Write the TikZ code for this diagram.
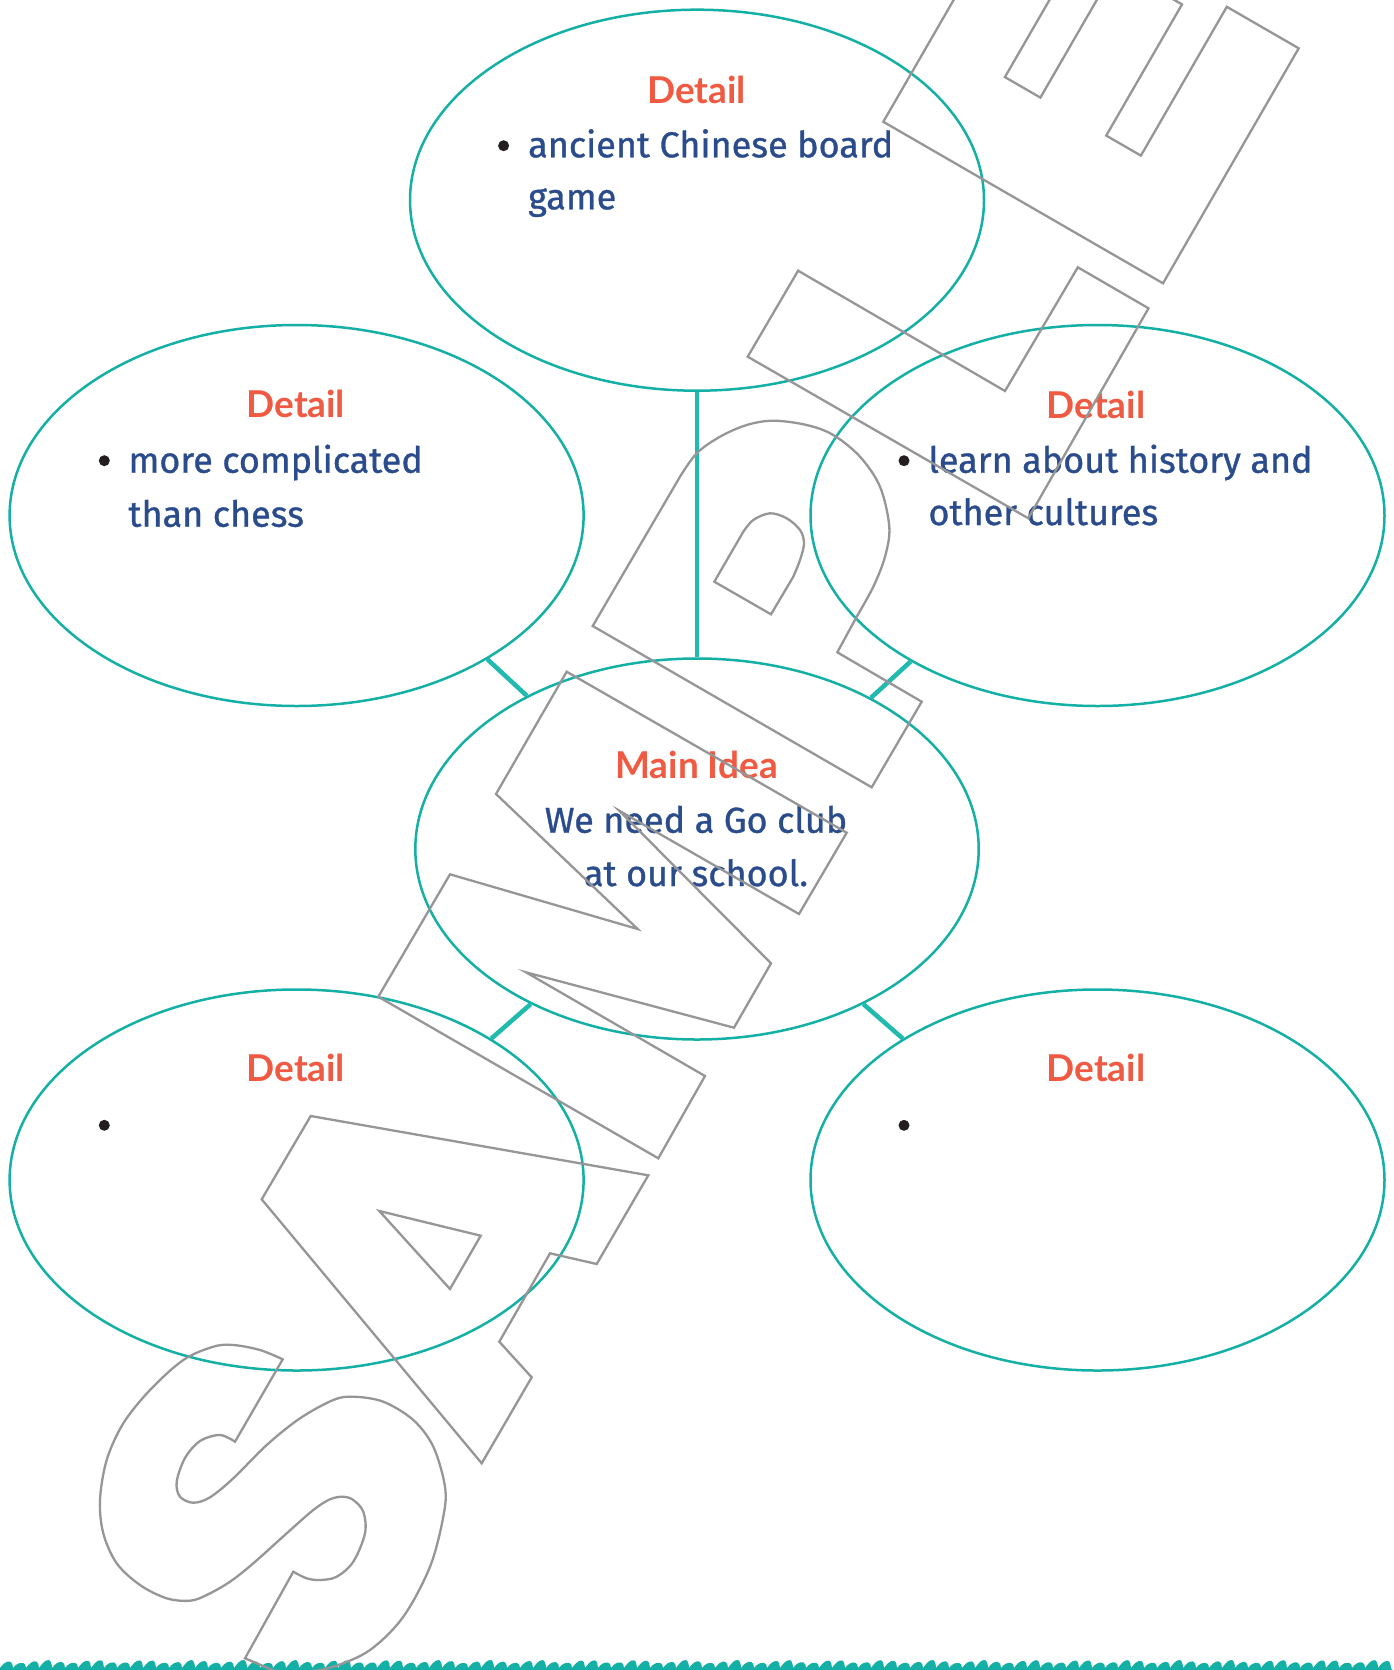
\documentclass[tikz,border=0pt]{standalone}
\usepackage{fontspec}
\setmainfont{Fira Sans}
\newfontfamily\headfont{Lato}
\newfontfamily\bodyfont{Fira Sans}[FakeBold=0.9]
\usetikzlibrary{shapes.geometric}
\definecolor{tealc}{RGB}{20,176,166}
\definecolor{linkc}{RGB}{32,186,174}
\definecolor{headc}{RGB}{240,90,66}
\definecolor{bodyc}{RGB}{43,76,140}
\definecolor{dotc}{RGB}{35,31,32}
\definecolor{markc}{RGB}{150,150,152}
\begin{document}
\begin{tikzpicture}[x=1pt,y=-1pt,
  bubble/.style={ellipse, draw=tealc, line width=2.5pt, inner sep=0pt, minimum width=574pt, minimum height=381pt},
  link/.style={draw=linkc, line width=4.5pt},
  head/.style={font=\headfont\bfseries\fontsize{37}{44}\selectfont, text=headc, inner sep=0pt, anchor=base},
  body/.style={font=\bodyfont\fontsize{36}{44}\selectfont, text=bodyc, inner sep=0pt, anchor=base west},
  mainbody/.style={body, anchor=base},
  dot/.style={circle, fill=dotc, minimum size=11pt, inner sep=0pt},
  wm/.style={draw=markc, line width=2.3pt, line join=miter}
]
\useasboundingbox (0,0) rectangle (1393,1670);
\fill[white] (0,0) rectangle (1393,1670);
\clip (0,0) rectangle (1393,1670);

% ellipses
\node[bubble] (top) at (697,200.2) {};
\node[bubble] (left) at (296.6,515.5) {};
\node[bubble] (right) at (1097.5,515.5) {};
\node[bubble, minimum width=563.4pt] (main) at (697,849) {};
\node[bubble] (bl) at (296.6,1180) {};
\node[bubble] (br) at (1097.5,1180) {};

% connectors
\draw[link] (top.south) -- (main.north);
\draw[link] (left.-37.5) -- (main.138.7);
\draw[link] (right.-142) -- (main.41.8);
\draw[link] (main.-137.5) -- (bl.36.3);
\draw[link] (main.-43.9) -- (br.144.8);

% texts
\node[head] (hTop) at (696.5,103.3) {Detail};
\node[dot] (dTop) at (503.6,145.7) {};
\node[body] (tTop1) at (528,157.3) {ancient Chinese board};
\node[body] (tTop2) at (528,209.3) {game};

\node[head] (hLeft) at (295.8,417.3) {Detail};
\node[dot] (dLeft) at (104.3,460.7) {};
\node[body] (tLeft1) at (128.3,472.7) {more complicated};
\node[body] (tLeft2) at (128.3,526.7) {than chess};

\node[head] (hRight) at (1096,418.3) {Detail};
\node[dot] (dRight) at (904,460.7) {};
\node[body] (tRight1) at (928.3,472.7) {learn about history and};
\node[body] (tRight2) at (928.3,525) {other cultures};

\node[head] (hMain) at (696.7,778.3) {Main Idea};
\node[mainbody] (tMain1) at (696,832.7) {We need a Go club};
\node[mainbody] (tMain2) at (696,886) {at our school.};

\node[head] (hBL) at (295.8,1081.9) {Detail};
\node[dot] (dBL) at (104.3,1125.3) {};
\node[head] (hBR) at (1096,1081.9) {Detail};
\node[dot] (dBR) at (904,1125.3) {};

% bottom band
\fill[tealc] (0,1671) foreach \x in {0,13,...,1390} { -- (\x,1668) .. controls (\x+3,1664) and (\x+6,{1661+1.5*sin(\x*7.3)}) .. (\x+10,{1661.5+1.5*sin(\x*7.3)}) .. controls (\x+12,{1662+1.5*sin(\x*7.3)}) and (\x+13,1665) .. (\x+13,1668) } -- (1393,1671) -- cycle;

% watermark SAMPLE
% S
\draw[wm] (282.7,1359.3) -- (235,1441.7)
  -- plot[smooth, tension=0.55] coordinates {(235,1441.7) (220,1435) (200,1441) (185,1458) (176.7,1481.7) (180,1496.7) (193.3,1502.7) (210,1497.3) (233.3,1478.3) (266.7,1445) (300,1418.3) (333.3,1400) (353.3,1396.7) (383.3,1401.7) (413.3,1420) (433.3,1446.7) (445,1486.7) (443.3,1516.7) (430,1566.7) (403.3,1616.7) (370,1650) (333.3,1666.7) (300,1673.3)}
  -- (275,1671) -- (245,1658.3) -- (293.3,1571.7)
  -- plot[smooth, tension=0.55] coordinates {(293.3,1571.7) (306.7,1578.3) (320,1580) (336.7,1576.7) (353.3,1561.7) (365,1533.3) (363.3,1511.7) (353.3,1500) (343.3,1496.7) (330,1499.3) (313.3,1510) (286.7,1533.3) (253.3,1563.3) (230,1581.7) (206.7,1595) (190,1600.7) (166.7,1598.3) (140,1585) (116.7,1563.3) (103.3,1533.3) (100,1500) (106.7,1460) (123.3,1423.3) (150,1390) (183.3,1360) (213.3,1346.7) (233.3,1345) (260,1350) (282.7,1359.3)}
  -- cycle;
% A
\draw[wm] (310.7,1116) -- (648.3,1175.3) -- (596.7,1264) -- (550,1253.3) -- (499.3,1341.7) -- (531.7,1377.3) -- (481.7,1463.3) -- (261.7,1199.3) -- cycle;
\draw[wm] (379.3,1211) -- (480.7,1235.7) -- (450,1289) -- cycle;
% M
\draw[wm] (566.7,671.7) -- (846.7,832.7) -- (799,914) -- (619.3,810.7) -- (771,963.3) -- (734,1027.7) -- (526,972.3) -- (705,1076) -- (658.3,1158.3) -- (378.3,996.7) -- (450,874.3) -- (637.7,929) -- (496,794) -- cycle;
% P
\draw[wm] (592.7,626) -- (680,476.7)
  -- plot[smooth, tension=0.55] coordinates {(680,476.7) (696.7,453.3) (720,436.7) (746.7,425) (773.3,420.7) (806.7,425) (833.3,435) (860,456.7) (880,486.7) (889.3,526.7) (885,556.7) (873.3,586.7) (856.7,616.7)}
  -- (837.3,652.3) -- (921.7,701.7) -- (871.7,787.3) -- cycle;
\draw[wm] (714.3,581.7) -- (743.3,531.7)
  -- plot[smooth, tension=0.55] coordinates {(743.3,531.7) (753.3,520) (770,513.3) (786.7,518.3) (800,530) (804,543.3) (800,560) (793.3,576.7)}
  -- (771,614.3) -- cycle;
% L
\draw[wm] (798.1,270.7) -- (747.7,356.7) -- (1028.3,518.3) -- (1148.5,308.3) -- (1077.8,267.3) -- (1005,391) -- cycle;
% E
\draw[wm] (1163,283.3) -- (1298.7,48.3) -- (1226.8,6.8) -- (1140.9,155.6) -- (1106.2,135.6) -- (1182,4.4) -- (1116.2,-33.6) -- (1040.4,97.6) -- (1004.9,77.1) -- (1087.7,-66.2) -- (1015.8,-107.7) -- (883.3,121.8) -- cycle;
\end{tikzpicture}
\end{document}
